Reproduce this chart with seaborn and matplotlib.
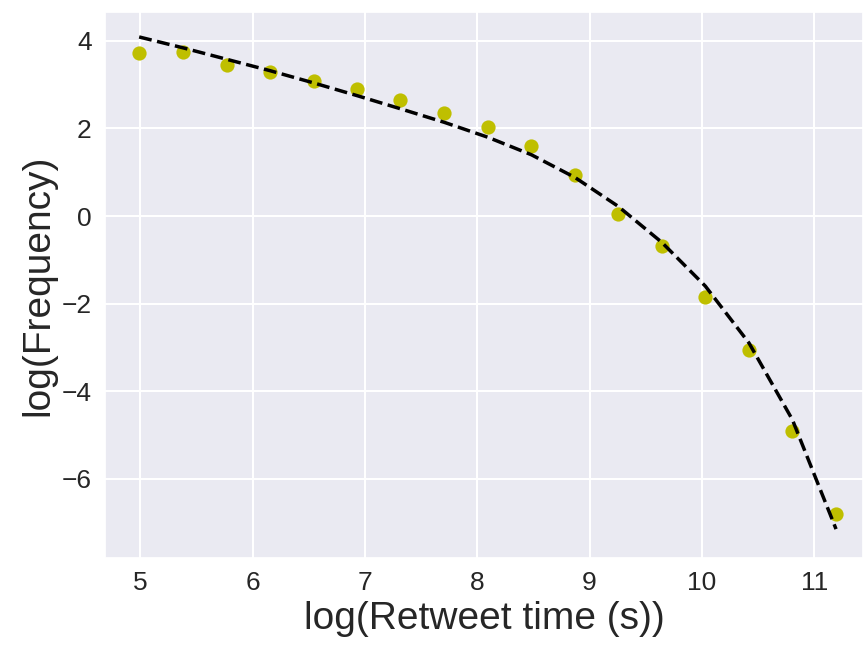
import numpy as np
import pandas as pd
import matplotlib
matplotlib.use("Agg")
import matplotlib.pyplot as plt
import seaborn as sns

# valores
log_tempo = [4.99, 5.383, 5.769, 6.155, 6.544, 6.930, 7.316, 7.707, 8.094,
             8.482, 8.871, 9.256, 9.643, 10.031, 10.420, 10.806, 11.195]
log_freq = [3.73, 3.74, 3.44, 3.30, 3.08, 2.89, 2.66, 2.35, 2.04,
            1.60, 0.94, 0.05, -0.69, -1.85, -3.05, -4.90, -6.81]
# curva ajustada (tracejada)
log_freq_fit = [4.09, 3.84, 3.58, 3.32, 3.04, 2.75, 2.45, 2.14, 1.80,
                1.40, 0.88, 0.22, -0.60, -1.60, -2.90, -4.65, -7.15]

df = pd.DataFrame({'tempo': log_tempo, 'freq': log_freq, 'fit': log_freq_fit})

sns.set_theme(style='darkgrid')
plt.rcParams['font.family'] = ['Liberation Sans', 'DejaVu Sans']
plt.rcParams['grid.linewidth'] = 1.5

fig = plt.figure(figsize=(8.63, 6.45), dpi=100)
ax = fig.add_axes([0.1217, 0.1349, 0.8783, 0.8465])

sns.scatterplot(data=df, x='tempo', y='freq', color=(0.75, 0.75, 0.0), s=105,
                linewidth=0, ax=ax, zorder=3)
sns.lineplot(data=df, x='tempo', y='fit', color='black', linestyle='--',
             linewidth=2.5, ax=ax, zorder=4)

ax.set_xlim(4.686, 11.435)
ax.set_ylim(-7.81, 4.66)
ax.set_xticks([5, 6, 7, 8, 9, 10, 11])
ax.set_yticks([-6, -4, -2, 0, 2, 4])
ax.tick_params(labelsize=19)

ax.set_xlabel('log(Retweet time (s))', fontsize=28)
ax.set_ylabel('log(Frequency)', fontsize=28)

fig.savefig('out.png', dpi=100)
